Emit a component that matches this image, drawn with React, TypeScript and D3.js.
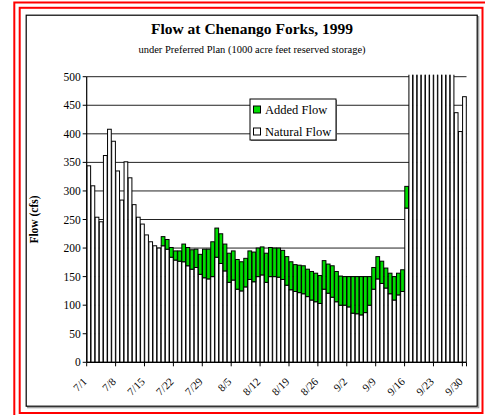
import React from "react";
import * as d3 from "d3";

// Natural flow (cfs), 7/1 .. 9/30 1999 (values above 500 are off-scale in the original)
const natural: number[] = [
  344, 309, 254, 246, 362, 408, 387, 335, 284, 351, 323, 276, 254, 242, 223, 211, 204, 200,
  204, 198, 184, 179, 177, 176, 169, 163, 166, 154, 148, 146, 150, 184, 173, 160, 140, 144,
  128, 125, 132, 145, 141, 150, 153, 140, 150, 150, 149, 145, 135,
  127, 124, 122, 120, 115, 109, 106, 103, 128, 121, 114, 106, 100, 100, 97, 86, 85, 83, 87,
  100, 128, 146, 138, 130, 120, 109, 118, 124, 270,
  620, 780, 900, 850, 760, 700, 640, 600, 580, 560, 540,
  437, 404, 465,
];

// Added flow (cfs) released from reserved storage
const added: number[] = [
  0, 0, 0, 0, 0, 0, 0, 0, 0, 0, 0, 0, 0, 0, 0, 0, 0, 0,
  16, 17, 17, 16, 18, 31, 32, 34, 32, 35, 50, 52, 61, 51, 52, 47, 51, 51,
  52, 51, 50, 50, 52, 50, 49, 51, 51, 50, 51, 51, 50,
  49, 47, 48, 49, 48, 50, 50, 49, 50, 51, 55, 53, 51, 50, 53, 64, 65, 67, 63,
  50, 38, 39, 39, 35, 36, 41, 38, 38, 38,
  0, 0, 0, 0, 0, 0, 0, 0, 0, 0, 0,
  0, 0, 0,
];

const yTicks = [0, 50, 100, 150, 200, 250, 300, 350, 400, 450, 500];
const tickLabels = ["7/1", "7/8", "7/15", "7/22", "7/29", "8/5", "8/12", "8/19", "8/26", "9/2", "9/9", "9/16", "9/23", "9/30"];
const categories = d3
  .timeDay.range(new Date(1999, 6, 1), new Date(1999, 9, 1))
  .map((d) => `${d.getMonth() + 1}/${d.getDate()}`);

const GREEN = "#00DD00";
const FONT = "'Liberation Serif', 'Times New Roman', serif";

export default function App() {
  const left = 86.7, right = 466.5, top = 76.7, bottom = 362.3;
  const x = d3.scaleBand<string>().domain(categories).range([left, right]).paddingInner(0.1).paddingOuter(0.05);
  const y = d3.scaleLinear().domain([0, 500]).range([bottom, top]);
  const step = x.step();
  const bw = x.bandwidth();

  return (
    <svg width={485} height={415} style={{ position: "absolute", left: 0, top: 0, background: "#fff" }} fontFamily={FONT}>
      <defs>
        <clipPath id="plotClip">
          <rect x={left - 1} y={top - 2} width={right - left + 2} height={bottom - top + 2} />
        </clipPath>
      </defs>
      {/* borders */}
      <rect x={14.3} y={2.5} width={480} height={430} fill="none" stroke="#ff0000" strokeWidth={2} />
      <rect x={19.7} y={7.8} width={462.8} height={405.2} fill="none" stroke="#ff0000" strokeWidth={2} />
      <rect x={27.7} y={16.7} width={451} height={391} fill="none" stroke="#999" strokeWidth={1.2} />
      <rect x={26.2} y={15.2} width={451} height={391} fill="#fff" stroke="#000" strokeWidth={1.2} />

      {/* titles */}
      <text x={252} y={34} textAnchor="middle" fontSize={15.5} fontWeight="bold">Flow at Chenango Forks, 1999</text>
      <text x={252} y={53} textAnchor="middle" fontSize={10.5}>under Preferred Plan (1000 acre feet reserved storage)</text>

      {/* gridlines */}
      {yTicks.filter((t) => t > 0).map((t) => (
        <line key={"g" + t} x1={left} x2={right} y1={y(t)} y2={y(t)} stroke="#222" strokeWidth={1} />
      ))}

      {/* bars */}
      <g clipPath="url(#plotClip)">
        {categories.map((c, i) => (
          <rect key={"n" + c} x={x(c)!} y={y(natural[i])} width={bw} height={y(0) - y(natural[i])} fill="#fff" stroke="#000" strokeWidth={1} />
        ))}
        {categories.map((c, i) =>
          added[i] > 0 ? (
            <rect key={"a" + c} x={x(c)!} y={y(natural[i] + added[i])} width={bw} height={y(natural[i]) - y(natural[i] + added[i])} fill={GREEN} stroke="#000" strokeWidth={1} />
          ) : null
        )}
      </g>

      {/* y axis */}
      <line x1={left} x2={left} y1={top} y2={bottom} stroke="#000" strokeWidth={1.2} />
      {yTicks.map((t) => (
        <g key={"y" + t}>
          <line x1={left - 4} x2={left} y1={y(t)} y2={y(t)} stroke="#000" strokeWidth={1} />
          <text x={left - 6} y={y(t)} dy="0.35em" textAnchor="end" fontSize={11.5}>{t}</text>
        </g>
      ))}
      <text transform={`translate(38,${(top + bottom) / 2}) rotate(-90)`} textAnchor="middle" fontSize={11.5} fontWeight="bold">Flow (cfs)</text>

      {/* x axis */}
      <line x1={left} x2={right} y1={bottom} y2={bottom} stroke="#000" strokeWidth={1.2} />
      {tickLabels.map((lab) => {
        const xb = x(lab)! - (step - bw) / 2;
        const cx = x(lab)! + bw / 2;
        return (
          <g key={"x" + lab}>
            <line x1={xb} x2={xb} y1={bottom} y2={bottom + 4} stroke="#000" strokeWidth={1} />
            <text transform={`translate(${cx - 1},${bottom + 20}) rotate(-45)`} textAnchor="end" fontSize={11}>{lab}</text>
          </g>
        );
      })}
      <line x1={right} x2={right} y1={bottom} y2={bottom + 4} stroke="#000" strokeWidth={1} />

      {/* legend */}
      <rect x={251} y={100} width={86} height={41} fill="#888" />
      <rect x={250} y={99} width={86} height={41} fill="#fff" stroke="#000" strokeWidth={1} />
      <rect x={253.5} y={106} width={7} height={7} fill={GREEN} stroke="#000" strokeWidth={1} />
      <text x={265} y={114} fontSize={12.5}>Added Flow</text>
      <rect x={253.5} y={128} width={7} height={7} fill="#fff" stroke="#000" strokeWidth={1} />
      <text x={265} y={136} fontSize={12.5}>Natural Flow</text>
    </svg>
  );
}
